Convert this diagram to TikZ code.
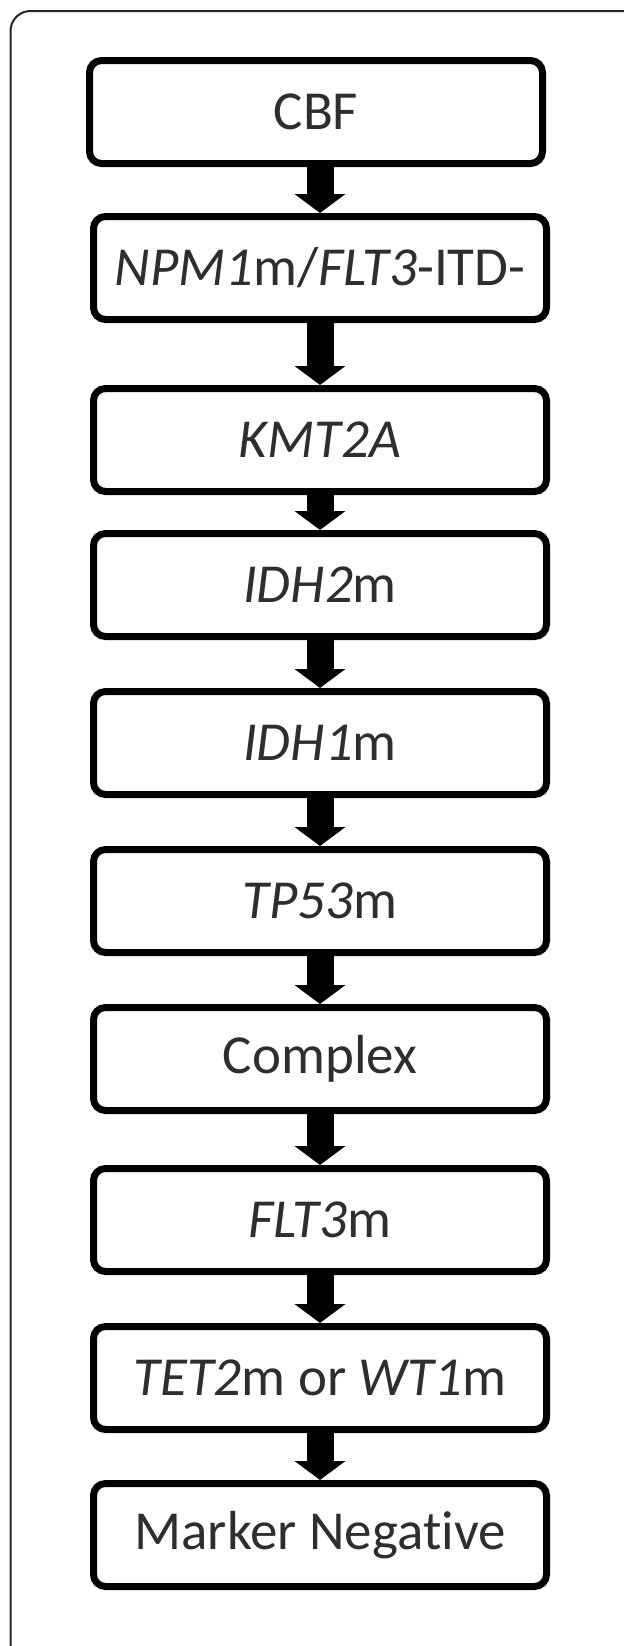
\documentclass[tikz,border=0pt]{standalone}
\usepackage{fontspec}
\setmainfont{Carlito}[Ligatures=NoCommon]
\usetikzlibrary{arrows.meta}
\definecolor{textgray}{HTML}{2E2E2E}
\tikzset{
  stage/.style={draw=black, line width=3.5pt, rounded corners=6pt, fill=white,
    minimum width=226.5pt, minimum height=51.5pt, inner sep=0pt,
    text=textgray, font=\fontsize{27.5pt}{32pt}\selectfont},
  flow/.style={draw=black, line width=13.5pt,
    -{Triangle[width=25pt,length=9.5pt]}},
  frame/.style={draw=black!85, line width=1pt, rounded corners=10pt}
}
\begin{document}
\begin{tikzpicture}[x=0.5pt,y=-0.5pt]
  \useasboundingbox[fill=white] (0,0) rectangle (624,1646);
  % outer panel border (top and left edges)
  \draw[frame] (10.5,1646) -- (10.5,11) -- (624,11);

  % stages
  \node[stage] (cbf)  at (316,112)  {CBF};
  \node[stage] (npm)  at (320,268)  {\textit{NPM1}m/\textit{FLT3}-ITD-};
  \node[stage] (kmt)  at (320,440)  {\textit{KMT2A}};
  \node[stage] (idhb) at (320,585)  {\textit{IDH2}m};
  \node[stage] (idha) at (320,743)  {\textit{IDH1}m};
  \node[stage] (tp)   at (320,901)  {\textit{TP53}m};
  \node[stage] (cpx)  at (320,1059) {Complex};
  \node[stage] (flt)  at (320,1220) {\textit{FLT3}m};
  \node[stage] (tet)  at (320,1378) {\textit{TET2}m or \textit{WT1}m};
  \node[stage] (neg)  at (320,1535) {Marker Negative};

  % downward block arrows
  \foreach \a/\b in {cbf/npm, npm/kmt, kmt/idhb, idhb/idha, idha/tp,
                     tp/cpx, cpx/flt, flt/tet, tet/neg}
    \draw[flow] (\b.north |- \a.south) -- (\b.north);
\end{tikzpicture}
\end{document}
